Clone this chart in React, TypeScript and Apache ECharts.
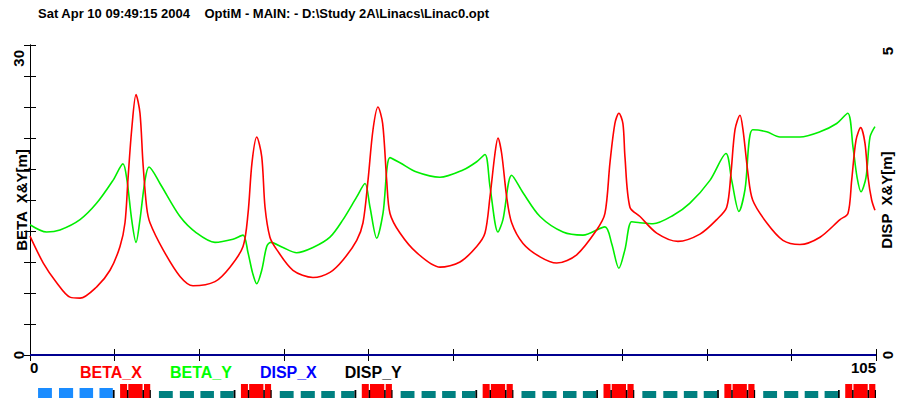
import React, { useEffect, useRef } from 'react';
import * as echarts from 'echarts';

const titleText = 'Sat Apr 10 09:49:15 2004    OptiM - MAIN: - D:\\Study 2A\\Linacs\\Linac0.opt';

// Beam optics functions (s in m, beta in m)
const sBetaX = [0, 1.65, 3.31, 4.96, 6.21, 8.28, 9.93, 11.17, 11.79, 12.16, 12.62, 13.16, 13.65, 14.02, 14.48, 14.89, 16.51, 18.62, 20.23, 22.96, 24.82, 26.44, 27.06, 27.55, 28.14, 28.76, 29.17, 29.78, 30.62, 32.64, 35.12, 37.23, 38.85, 40.55, 41.33, 41.95, 42.57, 43.19, 43.77, 44.27, 44.68, 45.92, 47.99, 50.88, 53.37, 55.44, 56.47, 57.09, 57.71, 58.08, 58.54, 59.16, 59.78, 61.19, 63.3, 65.37, 67.85, 70.33, 71.36, 71.98, 72.59, 73.09, 73.59, 73.84, 74.46, 75.71, 77.78, 80.42, 83.15, 85.23, 86.47, 87.0, 87.5, 88.12, 88.49, 89.11, 89.69, 91.43, 93.45, 95.56, 98.05, 100.53, 101.52, 101.98, 102.52, 103.1, 103.63, 104.01, 104.46, 104.87];
const betaX = [11.5, 8.9, 7.0, 5.6, 5.5, 6.6, 8.2, 10.5, 12.8, 17.0, 21.8, 25.2, 23.4, 18.6, 14.3, 12.8, 10.2, 7.6, 6.7, 7.1, 8.5, 10.5, 13.7, 18.6, 21.1, 19.2, 14.3, 11.4, 10.2, 8.2, 7.5, 8.0, 9.2, 11.1, 12.8, 16.9, 21.8, 24.0, 22.4, 16.9, 13.7, 11.8, 9.9, 8.5, 9.0, 10.5, 11.8, 15.3, 19.5, 21.0, 19.5, 15.3, 12.8, 10.8, 9.5, 8.9, 9.7, 12.1, 13.7, 18.6, 22.4, 23.4, 22.4, 19.2, 14.3, 13.4, 11.8, 11.0, 11.7, 13.1, 14.3, 17.6, 21.8, 23.2, 21.8, 17.6, 15.0, 12.8, 11.1, 10.7, 11.4, 13.1, 13.7, 16.9, 20.8, 22.0, 20.5, 17.2, 15.0, 14.0];

const sBetaY = [0, 2.07, 3.72, 6.21, 8.28, 10.3, 11.54, 12.04, 12.62, 13.16, 13.65, 14.27, 14.77, 16.13, 18.62, 20.69, 22.96, 25.19, 26.44, 27.06, 27.64, 28.14, 28.76, 29.38, 29.87, 31.4, 33.1, 35.12, 37.23, 38.85, 40.55, 41.58, 42.2, 43.03, 43.81, 44.68, 45.92, 47.99, 50.88, 53.74, 55.44, 56.47, 57.09, 58.08, 58.7, 59.78, 61.19, 63.3, 66.15, 68.63, 71.36, 72.19, 73.09, 73.84, 74.67, 75.71, 77.32, 79.8, 81.91, 84.39, 86.38, 87.09, 87.99, 88.74, 89.69, 91.43, 93.08, 95.56, 98.05, 100.12, 101.49, 102.15, 102.65, 103.14, 103.76, 104.26, 104.87];
const betaY = [12.6, 11.9, 12.1, 13.1, 14.7, 16.9, 18.5, 16.9, 13.1, 10.9, 13.1, 16.9, 18.2, 16.6, 13.4, 11.8, 10.9, 11.2, 11.6, 9.9, 7.9, 6.9, 8.2, 10.5, 10.9, 10.4, 9.9, 10.4, 11.4, 13.1, 15.3, 16.6, 14.3, 11.3, 13.7, 19.1, 18.6, 17.7, 17.2, 17.9, 18.7, 19.4, 16.3, 11.9, 13.1, 17.4, 15.7, 13.4, 11.9, 11.6, 12.4, 10.8, 8.4, 10.2, 12.9, 12.8, 12.7, 13.5, 14.7, 16.9, 19.5, 16.9, 13.9, 16.0, 21.8, 21.6, 21.1, 21.1, 21.6, 22.4, 23.4, 20.1, 17.2, 15.8, 17.2, 21.1, 22.1];

const sDisp = [0, 105];
const dispX = [0, 0];
const dispY = [0, 0];

const seriesNames = ['BETA_X', 'BETA_Y', 'DISP_X', 'DISP_Y'];
const legendColors = ['#ff0000', '#00ff00', '#0000ff', '#000000'];

const xTickLabels = [0, 105];
const betaTickLabels = [0, 30];
const dispTickLabels = [0, 5];

// Lattice: cell starts and the element template inside one cell [start, end, kind]
const cellStarts = [0, 15, 30, 45, 60, 75, 90];
const cellTemplate: [number, number, string][] = [
  [1.0, 2.72, 'quad'],
  [3.6, 5.35, 'quad'],
  [6.15, 7.83, 'quad'],
  [8.62, 10.28, 'quad'],
  [10.28, 10.5, 'marker'],
  [11.18, 12.05, 'cavity'],
  [12.2, 13.97, 'cavity'],
  [14.15, 14.92, 'cavity'],
  [12.03, 12.22, 'marker'],
  [13.95, 14.15, 'marker'],
  [14.85, 15.0, 'marker'],
];
const kindHeights: Record<string, number> = { firstQuad: 10, quad: 7, marker: 8, cavity: 14 };
const kindColors: Record<string, string> = { firstQuad: '#1a8cff', quad: '#008080', marker: '#000000', cavity: '#ff0000' };
const kindOrder = ['firstQuad', 'quad', 'marker', 'cavity'];

const FONT = '"Liberation Sans", Arial, sans-serif';

export default function App() {
  const ref = useRef<HTMLDivElement>(null);
  useEffect(() => {
    if (!ref.current) return;
    const chart = echarts.init(ref.current, undefined, { renderer: 'svg' });

    const elements: number[][] = [];
    cellStarts.forEach((c, i) => {
      cellTemplate.forEach(([a, b, kind]) => {
        const k = i === 0 && kind === 'quad' ? 'firstQuad' : kind;
        elements.push([c + a, c + b, kindHeights[k], kindOrder.indexOf(k)]);
      });
    });
    // draw markers last
    elements.sort((p, q) => (p[3] === 2 ? 1 : 0) - (q[3] === 2 ? 1 : 0));

    const isTick = (arr: number[]) => (v: number) => arr.some((t) => Math.abs(t - v) < 1e-6);
    const xIs = isTick(xTickLabels);
    const bIs = isTick(betaTickLabels);
    const dIs = isTick(dispTickLabels);

    const tickStyle = { inside: true, length: 6, lineStyle: { color: '#000', width: 1 } };
    const lblStyle = { color: '#000', fontWeight: 'bold' as const, fontSize: 15, fontFamily: FONT };

    chart.setOption({
      animation: false,
      title: {
        text: titleText,
        left: 38,
        top: 7,
        padding: 0,
        textStyle: { fontSize: 13, fontWeight: 'bold', color: '#000', fontFamily: FONT },
      },
      legend: {
        left: 70,
        top: 359,
        icon: 'rect',
        itemWidth: 0,
        itemHeight: 14,
        itemGap: 23,
        selectedMode: false,
        textStyle: { fontSize: 16, fontWeight: 'bold', fontFamily: FONT },
        data: seriesNames.map((n, i) => ({ name: n, textStyle: { color: legendColors[i] } })),
      },
      grid: [
        { left: 30, right: 27, top: 45, bottom: 47, containLabel: false, outerBoundsMode: 'none' },
        { left: 30, right: 27, top: 384, height: 14, containLabel: false, outerBoundsMode: 'none' },
      ],
      xAxis: [
        {
          type: 'value', gridIndex: 0, position: 'bottom', min: 0, max: 105, interval: 10.5,
          axisLine: { show: true, lineStyle: { color: '#000', width: 1 } },
          axisTick: tickStyle,
          splitLine: { show: false },
          axisLabel: {
            ...lblStyle, margin: 5, alignMinLabel: 'left', alignMaxLabel: 'right',
            formatter: (v: number) => (xIs(v) ? String(v) : ''),
          },
        },
        {
          type: 'value', gridIndex: 0, position: 'top', min: 0, max: 105, interval: 10.5,
          axisLine: { show: true, lineStyle: { color: '#000', width: 1 } },
          axisTick: tickStyle,
          splitLine: { show: false },
          axisLabel: { show: false },
        },
        { type: 'value', gridIndex: 1, min: 0, max: 105, show: false },
      ],
      yAxis: [
        {
          type: 'value', gridIndex: 0, position: 'left', min: 0, max: 30, interval: 3,
          name: 'BETA  X&Y[m]', nameLocation: 'middle', nameRotate: 90, nameGap: 1,
          nameMoveOverlap: false,
          nameTextStyle: { ...lblStyle, fontSize: 15 },
          axisLine: { show: true, lineStyle: { color: '#000', width: 1 } },
          axisTick: tickStyle,
          splitLine: { show: false },
          axisLabel: {
            ...lblStyle, rotate: 90, margin: 4, alignMaxLabel: 'right',
            formatter: (v: number) => (bIs(v) ? (v === 30 ? '{mx|' + v + '}' : String(v)) : ''),
            rich: { mx: { ...lblStyle, padding: [0, 5, 0, 0] } },
          },
        },
        {
          type: 'value', gridIndex: 0, position: 'right', min: 0, max: 5, interval: 0.5,
          name: 'DISP  X&Y[m]', nameLocation: 'middle', nameRotate: 90, nameGap: 3,
          nameMoveOverlap: false,
          nameTextStyle: { ...lblStyle, fontSize: 15 },
          axisLine: { show: true, lineStyle: { color: '#000', width: 1 } },
          axisTick: tickStyle,
          splitLine: { show: false },
          axisLabel: {
            ...lblStyle, rotate: 90, margin: 4, alignMaxLabel: 'right',
            formatter: (v: number) => (dIs(v) ? (v === 5 ? '{mx|' + v + '}' : String(v)) : ''),
            rich: { mx: { ...lblStyle, padding: [0, 2, 0, 0] } },
          },
        },
        { type: 'value', gridIndex: 1, min: 0, max: 14, show: false },
      ],
      series: [
        {
          name: 'DISP_Y', type: 'line', xAxisIndex: 0, yAxisIndex: 1, showSymbol: false, clip: false,
          data: sDisp.map((s, i) => [s, dispY[i]]),
          lineStyle: { color: '#000000', width: 1 }, itemStyle: { color: '#000000' },
        },
        {
          name: 'DISP_X', type: 'line', xAxisIndex: 0, yAxisIndex: 1, showSymbol: false, clip: false,
          data: sDisp.map((s, i) => [s, dispX[i]]),
          lineStyle: { color: '#000090', width: 2 }, itemStyle: { color: '#0000ff' },
        },
        {
          name: 'BETA_Y', type: 'line', xAxisIndex: 0, yAxisIndex: 0, showSymbol: false, smooth: 0.3,
          data: sBetaY.map((s, i) => [s, betaY[i]]),
          lineStyle: { color: '#00ee00', width: 1.6 }, itemStyle: { color: '#00ff00' },
        },
        {
          name: 'BETA_X', type: 'line', xAxisIndex: 0, yAxisIndex: 0, showSymbol: false, smooth: 0.3,
          data: sBetaX.map((s, i) => [s, betaX[i]]),
          lineStyle: { color: '#ff0000', width: 1.6 }, itemStyle: { color: '#ff0000' },
        },
        {
          name: 'lattice', type: 'custom', xAxisIndex: 2, yAxisIndex: 2,
          data: elements,
          encode: { x: [0, 1], y: 2 },
          renderItem: (params: any, api: any) => {
            const a = api.coord([api.value(0), api.value(2)]);
            const b = api.coord([api.value(1), 0]);
            return {
              type: 'rect',
              shape: { x: a[0], y: a[1], width: b[0] - a[0], height: b[1] - a[1] },
              style: { fill: kindColors[kindOrder[api.value(3)]] },
            };
          },
        },
      ],
    });
    return () => chart.dispose();
  }, []);
  return <div ref={ref} style={{ position: 'fixed', left: 0, top: 0, width: 903, height: 402, background: '#fff' }} />;
}
